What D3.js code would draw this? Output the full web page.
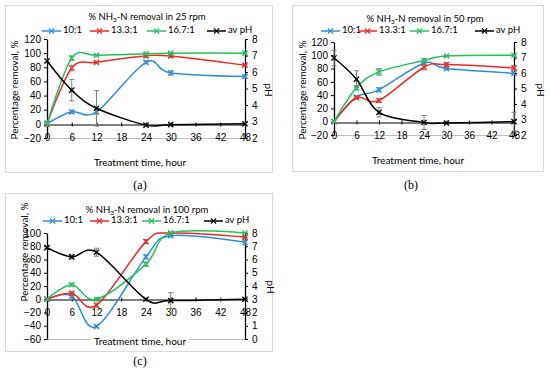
<!DOCTYPE html>
<html>
<head>
<meta charset="utf-8">
<script src="https://cdn.jsdelivr.net/npm/d3@7"></script>
<style>
  body { margin: 0; background: #fff; }
  svg { display: block; font-family: Lato, "Open Sans", sans-serif; }
</style>
</head>
<body>
<svg id="chart" width="550" height="376"></svg>
<script>
// sampling times and axis ticks
const hours = [0, 6, 12, 24, 30, 48];
const xTicks = [0, 6, 12, 18, 24, 30, 36, 42, 48];
const seriesNames = ['10:1', '13.3:1', '16.7:1', 'av pH'];
const seriesColors = ['#2f8ddb', '#f02a24', '#23c25a', '#000000'];

// (a) 25 rpm
const rpm25_r10 = [0, 17, 17, 87, 72, 67];
const rpm25_r13 = [0, 79, 87, 96, 96, 83];
const rpm25_r16 = [0, 93, 97, 99, 100, 100];
const rpm25_pH = [6.67, 4.9, 3.8, 2.78, 2.81, 2.86];
const rpm25_err = [[4, 2, 3, 2, 3, 2], [0, 4, 1, 2, 2, 1], [0, 3, 1, 1, 1, 1], [0.1, 0.65, 1.07, 0.05, 0.05, 0.05]];

// (b) 50 rpm
const rpm50_r10 = [0, 37, 48, 88, 80, 73];
const rpm50_r13 = [0, 36, 32, 82, 86, 81];
const rpm50_r16 = [0, 51, 75, 92, 99, 100];
const rpm50_pH = [6.97, 5.6, 3.46, 2.81, 2.77, 2.86];
const rpm50_err = [[0, 2, 3, 3, 2, 2], [0, 2, 3, 4, 3, 3], [0, 3, 5, 3, 1, 1], [0.5, 0.55, 0.3, 0.45, 0.05, 0.6]];

// (c) 100 rpm
const rpm100_r10 = [0, 5, -41, 64, 96, 86];
const rpm100_r13 = [0, 9, -9, 87, 100, 94];
const rpm100_r16 = [0, 22, 0, 53, 100, 100];
const rpm100_pH = [6.9, 6.2, 6.55, 3.0, 2.9, 3.0];
const rpm100_err = [[0, 5, 2, 3, 2, 4], [0, 3, 3, 3, 1, 1], [0, 2, 2, 3, 1, 1], [0.1, 0.15, 0.3, 0.05, 0.6, 0.05]];

const panels = [
  { rpm: '25', label: '(a)', series: [rpm25_r10, rpm25_r13, rpm25_r16, rpm25_pH], err: rpm25_err,
    yDomain: [-20, 120], yTicks: d3.range(-20, 121, 20), pHDomain: [2, 8], pHTicks: d3.range(2, 9, 1),
    frame: [5, 5, 267, 167], plot: [47, 245, 39, 138], titleY: 18, legendY: 31,
    legendX: [42, 90, 147, 207], xTitle: [140, 163], yTitle: [15, 90], pHTitle: [268, 90], caption: [140, 186], xTitleBg: false },
  { rpm: '50', label: '(b)', series: [rpm50_r10, rpm50_r13, rpm50_r16, rpm50_pH], err: rpm50_err,
    yDomain: [-20, 120], yTicks: d3.range(-20, 121, 20), pHDomain: [2, 8], pHTicks: d3.range(2, 9, 1),
    frame: [292, 5, 251, 166], plot: [334, 514, 42, 135], titleY: 20, legendY: 31,
    legendX: [321, 358, 410, 475], xTitle: [418, 161], yTitle: [303, 90], pHTitle: [540, 90], caption: [411, 186], xTitleBg: false },
  { rpm: '100', label: '(c)', series: [rpm100_r10, rpm100_r13, rpm100_r16, rpm100_pH], err: rpm100_err,
    yDomain: [-60, 100], yTicks: d3.range(-60, 101, 20), pHDomain: [0, 8], pHTicks: d3.range(0, 9, 1),
    frame: [5, 193, 267, 158], plot: [47, 245, 233, 339], titleY: 211, legendY: 221,
    legendX: [43, 90, 142, 204], xTitle: [140, 342], yTitle: [25, 252], pHTitle: [270, 287], caption: [140, 362], xTitleBg: true }
];

const svg = d3.select('#chart');

function cross(g, x, y, color, s = 2.6) {
  g.append('path')
    .attr('d', `M${x - s},${y - s}L${x + s},${y + s}M${x - s},${y + s}L${x + s},${y - s}`)
    .attr('stroke', color).attr('stroke-width', 1.3).attr('fill', 'none');
}

function drawPanel(p) {
  const g = svg.append('g');
  const [fx, fy, fw, fh] = p.frame;
  const [left, right, top, bottom] = p.plot;

  g.append('rect').attr('x', fx + 0.5).attr('y', fy + 0.5).attr('width', fw).attr('height', fh)
    .attr('fill', '#fff').attr('stroke', '#d9d9d9');

  const x = d3.scaleLinear().domain([0, 48]).range([left, right]);
  const y = d3.scaleLinear().domain(p.yDomain).range([bottom, top]);
  const yPH = d3.scaleLinear().domain(p.pHDomain).range([bottom, top]);

  // light bottom line of plot area
  g.append('line').attr('x1', left).attr('x2', right).attr('y1', bottom + 0.5).attr('y2', bottom + 0.5)
    .attr('stroke', '#bfbfbf');

  // x axis at zero
  const xAxis = g.append('g').attr('transform', `translate(0,${Math.round(y(0)) + 0.5})`)
    .call(d3.axisBottom(x).tickValues(xTicks).tickSizeInner(3).tickSizeOuter(0).tickPadding(6));
  xAxis.select('.domain').attr('stroke', '#000');
  xAxis.selectAll('.tick line').attr('y1', -2).attr('y2', 2);
  xAxis.selectAll('text').attr('font-size', 10).attr('fill', '#000');

  // left axis
  const yAxis = g.append('g').attr('transform', `translate(${left},0)`)
    .call(d3.axisLeft(y).tickValues(p.yTicks).tickSizeInner(3).tickSizeOuter(0).tickPadding(3));
  yAxis.select('.domain').attr('stroke', '#000').attr('stroke-width', 1.3);
  yAxis.selectAll('text').attr('font-size', 10).attr('fill', '#000');

  // right axis (pH)
  const pAxis = g.append('g').attr('transform', `translate(${right},0)`)
    .call(d3.axisRight(yPH).tickValues(p.pHTicks).tickFormat(d3.format('d'))
      .tickSizeInner(3).tickSizeOuter(0).tickPadding(4));
  pAxis.select('.domain').attr('stroke', '#000').attr('stroke-width', 1.3);
  pAxis.selectAll('text').attr('font-size', 10).attr('fill', '#000');

  const line = d3.line().curve(d3.curveCardinal.tension(0));

  p.series.forEach((vals, si) => {
    const sc = si === 3 ? yPH : y;
    const color = seriesColors[si];
    const pts = hours.map((h, i) => [x(h), sc(vals[i])]);
    // error bars
    hours.forEach((h, i) => {
      const e = p.err[si][i];
      if (!e) return;
      const cx = x(h), y1 = sc(vals[i] - e), y2 = sc(vals[i] + e);
      g.append('path')
        .attr('d', `M${cx},${y1}L${cx},${y2}M${cx - 2.5},${y1}L${cx + 2.5},${y1}M${cx - 2.5},${y2}L${cx + 2.5},${y2}`)
        .attr('stroke', '#7f7f7f').attr('stroke-width', 1).attr('fill', 'none');
    });
    g.append('path').attr('d', line(pts)).attr('fill', 'none')
      .attr('stroke', color).attr('stroke-width', 1.5);
    pts.forEach(([px, py]) => cross(g, px, py, color));
  });

  // title
  const t = g.append('text').attr('x', (left + right) / 2 + 1).attr('y', p.titleY)
    .attr('text-anchor', 'middle').attr('dominant-baseline', 'middle').attr('font-size', 9.5).attr('fill', '#000');
  t.append('tspan').text('% NH');
  t.append('tspan').attr('font-size', 6.5).attr('dy', 2).text('3');
  t.append('tspan').attr('dy', -2).text(`-N removal in ${p.rpm} rpm`);

  // legend
  seriesNames.forEach((name, i) => {
    const lx = p.legendX[i], ly = p.legendY;
    g.append('line').attr('x1', lx).attr('x2', lx + 19).attr('y1', ly).attr('y2', ly)
      .attr('stroke', seriesColors[i]).attr('stroke-width', 1.5);
    cross(g, lx + 9.5, ly, seriesColors[i]);
    g.append('text').attr('x', lx + 21).attr('y', ly).attr('dominant-baseline', 'middle')
      .attr('font-size', 9.5).attr('fill', '#000').text(name);
  });

  // axis titles
  const xt = g.append('text').attr('x', p.xTitle[0]).attr('y', p.xTitle[1])
    .attr('text-anchor', 'middle').attr('dominant-baseline', 'middle').attr('font-size', 10).attr('fill', '#000')
    .text('Treatment time, hour');
  if (p.xTitleBg) {
    const bb = xt.node().getBBox();
    g.insert('rect', () => xt.node()).attr('x', bb.x - 3).attr('y', bb.y).attr('width', bb.width + 6)
      .attr('height', bb.height).attr('fill', '#fff');
  }
  g.append('text').attr('transform', `translate(${p.yTitle[0]},${p.yTitle[1]}) rotate(-90)`)
    .attr('text-anchor', 'middle').attr('dominant-baseline', 'middle').attr('font-size', 10).attr('fill', '#000')
    .text('Percentage removal, %');
  g.append('text').attr('transform', `translate(${p.pHTitle[0]},${p.pHTitle[1]}) rotate(90)`)
    .attr('text-anchor', 'middle').attr('dominant-baseline', 'middle').attr('font-size', 10).attr('fill', '#000')
    .text('pH');

  svg.append('text').attr('x', p.caption[0]).attr('y', p.caption[1])
    .attr('text-anchor', 'middle').attr('dominant-baseline', 'middle')
    .attr('font-family', '"Liberation Serif", "DejaVu Serif", serif').attr('font-size', 12).attr('fill', '#000')
    .text(p.label);
}

panels.forEach(drawPanel);
</script>
</body>
</html>
